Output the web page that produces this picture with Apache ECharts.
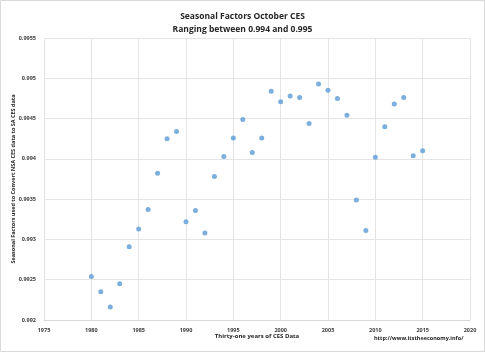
<!DOCTYPE html>
<html>
<head>
<meta charset="utf-8">
<script src="https://cdn.jsdelivr.net/npm/echarts@6/dist/echarts.min.js"></script>
<style>
  html, body { margin: 0; padding: 0; background: #fff; }
  #box { width: 485px; height: 352px; }
</style>
</head>
<body>
<div id="box"></div>
<script>
// years of CES data
const years = [1980, 1981, 1982, 1983, 1984, 1985, 1986, 1987, 1988, 1989,
  1990, 1991, 1992, 1993, 1994, 1995, 1996, 1997, 1998, 1999,
  2000, 2001, 2002, 2003, 2004, 2005, 2006, 2007, 2008, 2009,
  2010, 2011, 2012, 2013, 2014, 2015];
// seasonal factor for October
const factors = [0.99254, 0.99235, 0.99216, 0.99245, 0.99291, 0.99313, 0.99337, 0.99382, 0.99425, 0.99434,
  0.99322, 0.99336, 0.99308, 0.99378, 0.99403, 0.99426, 0.99449, 0.99408, 0.99426, 0.99484,
  0.99471, 0.99478, 0.99476, 0.99444, 0.99493, 0.99485, 0.99475, 0.99454, 0.99349, 0.99311,
  0.99402, 0.9944, 0.99468, 0.99476, 0.99404, 0.9941];

const font = '"Open Sans", "Liberation Sans", sans-serif';
const myChart = echarts.init(document.getElementById('box'));
const option = {
  animation: false,
  title: {
    text: 'Seasonal Factors October CES\nRanging between 0.994 and 0.995',
    left: 'center',
    top: 5,
    textStyle: { fontFamily: font, fontSize: 8.5, fontWeight: 'bold', color: '#262626', lineHeight: 13 }
  },
  graphic: [
    {
      type: 'rect',
      shape: { x: 0.5, y: 0.5, width: 484, height: 351 },
      style: { fill: 'none', stroke: '#d9d9d9', lineWidth: 1 }
    },
    {
      type: 'text',
      left: 374,
      top: 335,
      style: { text: 'http://www.itstheeconomy.info/', fontFamily: font, fontSize: 5.5, fontWeight: 'bold', fill: '#262626' }
    }
  ],
  grid: { left: 44, right: 15, top: 38, bottom: 32, containLabel: false, outerBoundsMode: 'none' },
  xAxis: {
    type: 'value',
    min: 1975, max: 2020, interval: 5,
    name: 'Thirty-one years of CES Data',
    nameLocation: 'middle',
    nameGap: 13,
    nameMoveOverlap: false,
    nameTextStyle: { fontFamily: font, fontSize: 6, fontWeight: 'bold', color: '#262626' },
    axisLine: { show: true, lineStyle: { color: '#d9d9d9' } },
    axisTick: { show: false },
    axisLabel: {
      fontFamily: font, fontSize: 5.5, fontWeight: 'bold', color: '#404040', margin: 7,
      formatter: v => String(v)
    },
    splitLine: { show: true, lineStyle: { color: '#e4e4e4' } }
  },
  yAxis: {
    type: 'value',
    min: 0.992, max: 0.9955, interval: 0.0005,
    name: 'Seasonal Factors used to Convert NSA CES data to SA CES data',
    nameLocation: 'middle',
    nameGap: 28,
    nameMoveOverlap: false,
    nameTextStyle: { fontFamily: font, fontSize: 5.5, fontWeight: 'bold', color: '#262626' },
    axisLine: { show: false },
    axisTick: { show: false },
    axisLabel: {
      fontFamily: font, fontSize: 5.5, fontWeight: 'bold', color: '#404040', margin: 8,
      formatter: v => String(+v.toFixed(4))
    },
    splitLine: { show: true, lineStyle: { color: '#e4e4e4' } }
  },
  series: [
    {
      type: 'scatter',
      symbolSize: 5,
      itemStyle: { color: '#5b9bd5' },
      data: years.map((y, i) => [y, factors[i]])
    }
  ]
};
myChart.setOption(option);
</script>
</body>
</html>
